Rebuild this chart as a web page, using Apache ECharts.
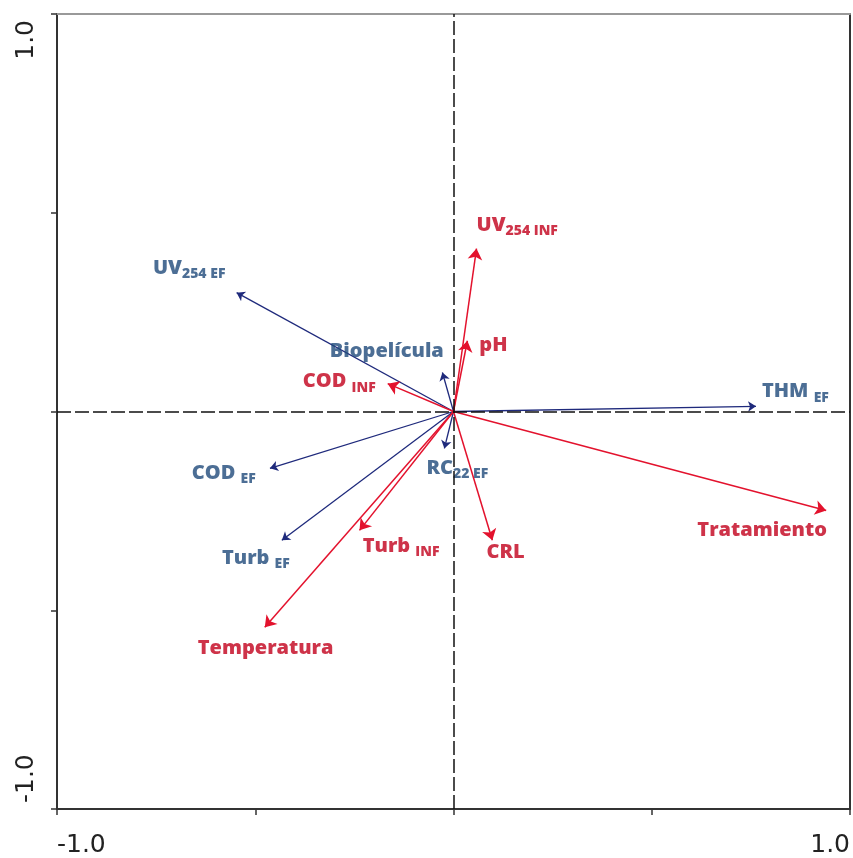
<!DOCTYPE html>
<html>
<head>
<meta charset="utf-8">
<script src="https://cdn.jsdelivr.net/npm/echarts@6/dist/echarts.min.js"></script>
<style>html,body{margin:0;padding:0;background:#fff}#main{width:853px;height:858px}</style>
</head>
<body>
<div id="main"></div>
<script>
// effluent variables (blue)
var blueNames = ['UV254 EF', 'Biopelícula', 'RC22 EF', 'THM EF', 'COD EF', 'Turb EF'];
var blueX = [-0.547, -0.028, -0.023, 0.763, -0.463, -0.433];
var blueY = [0.299, 0.098, -0.093, 0.013, -0.143, -0.324];
// influent / operating variables (red)
var redNames = ['UV254 INF', 'pH', 'COD INF', 'Tratamiento', 'CRL', 'Turb INF', 'Temperatura'];
var redX = [0.058, 0.035, -0.166, 0.94, 0.098, -0.237, -0.476];
var redY = [0.41, 0.178, 0.07, -0.249, -0.324, -0.299, -0.543];
// label text with subscripts
var blueText = ['UV{s|254 EF}', 'Biopelícula', 'RC{s|22 EF}', 'THM {s|EF}', 'COD {s|EF}', 'Turb {s|EF}'];
var redText = ['UV{s|254 INF}', 'pH', 'COD {s|INF}', 'Tratamiento', 'CRL', 'Turb {s|INF}', 'Temperatura'];
// where each label starts (left edge, middle), in axis units
var blueLabelPos = [[-0.758, 0.361], [-0.312, 0.151], [-0.068, -0.143], [0.778, 0.050], [-0.660, -0.156], [-0.584, -0.369]];
var redLabelPos = [[0.058, 0.469], [0.065, 0.166], [-0.380, 0.075], [0.615, -0.299], [0.083, -0.354], [-0.229, -0.339], [-0.645, -0.595]];

var BLUE_LINE = '#1f2a7c', BLUE_TXT = '#1f4a7a';
var RED_LINE = '#e3122d', RED_TXT = '#c2001c';

var chart = echarts.init(document.getElementById('main'));

function arrows(xs, ys) {
    return xs.map(function (x, i) {
        return { coords: [[0, 0], [x, ys[i]]] };
    });
}
function labels(pos, txt) {
    return pos.map(function (p, i) {
        return { value: p, label: { formatter: txt[i] } };
    });
}
function labelStyle(color) {
    return {
        show: true,
        position: 'inside',
        align: 'left',
        verticalAlign: 'middle',
        color: color,
        fontFamily: 'Open Sans',
        fontWeight: 800,
        fontSize: 20,
        lineHeight: 26,
        rich: {
            s: { color: color, fontFamily: 'Open Sans', fontWeight: 800, fontSize: 14, lineHeight: 16, verticalAlign: 'bottom' }
        }
    };
}

var tickLabel = function (v) { return (v === -1 || v === 1) ? v.toFixed(1) : ''; };

option = {
    animation: false,
    grid: { left: 57, right: 2, top: 14, bottom: 47 },
    xAxis: [{
        type: 'value', min: -1, max: 1, interval: 0.5,
        axisLine: { onZero: false, lineStyle: { color: '#333', width: 2 } },
        axisTick: { show: true, length: 6, lineStyle: { color: '#333', width: 1.5 } },
        splitLine: { show: false },
        axisLabel: {
            formatter: tickLabel, margin: 24, color: '#222',
            fontFamily: 'DejaVu Sans', fontSize: 25,
            alignMinLabel: 'left', alignMaxLabel: 'right'
        }
    }, {
        type: 'value', min: -1, max: 1, position: 'top',
        axisLine: { onZero: false, lineStyle: { color: '#999', width: 2 } },
        axisTick: { show: false }, axisLabel: { show: false }, splitLine: { show: false }
    }],
    yAxis: [{
        type: 'value', min: -1, max: 1, interval: 0.5,
        axisLine: { onZero: false, lineStyle: { color: '#333', width: 2 } },
        axisTick: { show: true, length: 6, lineStyle: { color: '#333', width: 1.5 } },
        splitLine: { show: false },
        axisLabel: {
            formatter: tickLabel, margin: 18, color: '#222', rotate: 90,
            fontFamily: 'DejaVu Sans', fontSize: 25, padding: [0, 6, 0, 6],
            alignMinLabel: 'left', alignMaxLabel: 'right'
        }
    }, {
        type: 'value', min: -1, max: 1, position: 'right',
        axisLine: { onZero: false, lineStyle: { color: '#333', width: 2 } },
        axisTick: { show: false }, axisLabel: { show: false }, splitLine: { show: false }
    }],
    series: [
        {
            type: 'line', data: [], silent: true,
            markLine: {
                silent: true, symbol: 'none', label: { show: false },
                lineStyle: { color: '#111', type: [14, 4], width: 1.5 },
                data: [{ xAxis: 0 }, { yAxis: 0 }]
            }
        },
        {
            type: 'lines', coordinateSystem: 'cartesian2d', name: 'EF',
            symbol: ['none', 'arrow'], symbolSize: 8,
            lineStyle: { color: BLUE_LINE, width: 1.3, opacity: 1 },
            data: arrows(blueX, blueY)
        },
        {
            type: 'lines', coordinateSystem: 'cartesian2d', name: 'INF',
            symbol: ['none', 'arrow'], symbolSize: 11,
            lineStyle: { color: RED_LINE, width: 1.5, opacity: 1 },
            data: arrows(redX, redY)
        },
        {
            type: 'scatter', symbolSize: 0, silent: true,
            label: labelStyle(BLUE_TXT),
            data: labels(blueLabelPos, blueText)
        },
        {
            type: 'scatter', symbolSize: 0, silent: true,
            label: labelStyle(RED_TXT),
            data: labels(redLabelPos, redText)
        }
    ]
};
chart.setOption(option, true);
</script>
</body>
</html>
